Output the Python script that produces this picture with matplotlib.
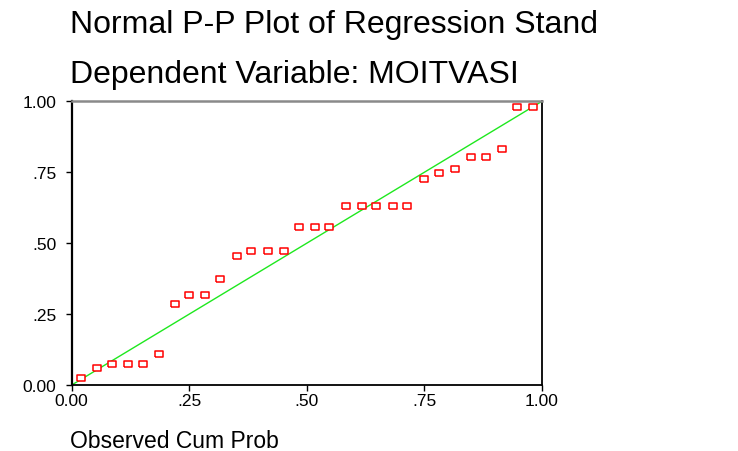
import matplotlib
matplotlib.use("Agg")
import matplotlib.pyplot as plt

# Observed vs expected cumulative probabilities
observed_cum = [0.019, 0.053, 0.085, 0.119, 0.151, 0.185, 0.220, 0.250, 0.284, 0.316,
                0.351, 0.382, 0.417, 0.452, 0.483, 0.517, 0.548, 0.583, 0.617, 0.648,
                0.683, 0.714, 0.749, 0.781, 0.815, 0.850, 0.881, 0.916, 0.947, 0.981]
expected_cum = [0.026, 0.059, 0.073, 0.073, 0.073, 0.108, 0.284, 0.318, 0.318, 0.374,
                0.454, 0.473, 0.473, 0.473, 0.557, 0.557, 0.557, 0.632, 0.632, 0.632,
                0.632, 0.632, 0.726, 0.746, 0.760, 0.805, 0.805, 0.833, 0.981, 0.981]
tick_vals = [0.0, 0.25, 0.5, 0.75, 1.0]
x_tick_labels = ["0.00", ".25", ".50", ".75", "1.00"]
y_tick_labels = ["0.00", ".25", ".50", ".75", "1.00"]

plt.rcParams['font.family'] = ['Liberation Sans', 'DejaVu Sans']

fig = plt.figure(figsize=(7.38, 4.52), dpi=100)
ax = fig.add_axes([0.0972, 0.146, 0.6372, 0.6277])

# diagonal reference line
ax.plot([0, 1], [0, 1], color='#1ee81e', linewidth=1.0, zorder=2)

# wide hollow rectangle markers
rect = [(-1, -0.72), (1, -0.72), (1, 0.72), (-1, 0.72), (-1, -0.72)]
ax.plot(observed_cum, expected_cum, linestyle='none', marker=rect, markersize=5.8,
        markerfacecolor='white', markeredgecolor='#ff0000', markeredgewidth=1.1,
        zorder=3, clip_on=False)

ax.set_xlim(0, 1)
ax.set_ylim(0, 1)
ax.set_xticks(tick_vals)
ax.set_xticklabels(x_tick_labels)
ax.set_yticks(tick_vals)
ax.set_yticklabels(y_tick_labels)
ax.tick_params(axis='both', direction='out', length=4, width=1, labelsize=12.5, colors='black')
ax.tick_params(axis='x', pad=2)
ax.tick_params(axis='y', pad=7)

ax.spines['left'].set_linewidth(1.6)
ax.spines['right'].set_linewidth(1.3)
ax.spines['bottom'].set_linewidth(1.3)
ax.spines['top'].set_linewidth(1.8)
ax.spines['top'].set_color('#8a8a8a')

fig.text(70 / 738, 1 - 33 / 452, "Normal P-P Plot of Regression Stand",
         fontsize=23, ha='left', va='baseline')
fig.text(70 / 738, 1 - 83 / 452, "Dependent Variable: MOITVASI",
         fontsize=23, ha='left', va='baseline')
fig.text(70 / 738, 1 - 448 / 452, "Observed Cum Prob",
         fontsize=16.5, ha='left', va='baseline')

fig.savefig("out.png", dpi=100)
plt.close(fig)
